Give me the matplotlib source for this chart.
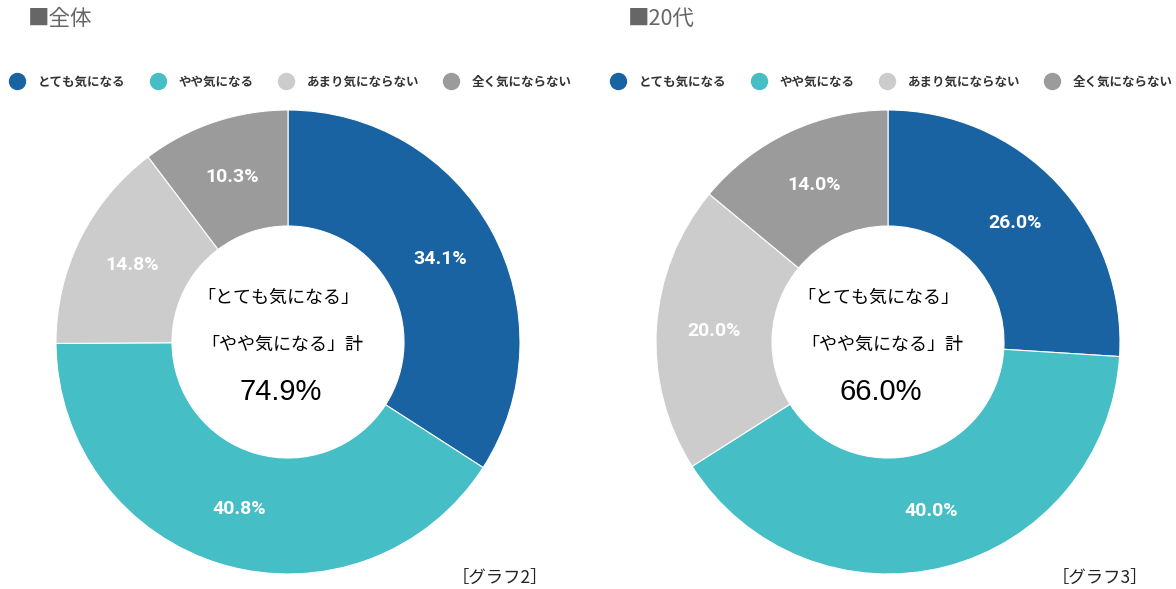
import matplotlib.pyplot as plt
from matplotlib.lines import Line2D

plt.rcParams['font.family'] = ['Noto Sans CJK JP', 'DejaVu Sans']

categories = ['とても気になる', 'やや気になる', 'あまり気にならない', '全く気にならない']
colors = ['#1a63a3', '#45bec6', '#cccccc', '#9b9b9b']

titles = ['■全体', '■20代']
values_all = [34.1, 40.8, 14.8, 10.3]
values_20s = [26.0, 40.0, 20.0, 14.0]
totals = ['74.9%', '66.0%']
captions = ['［グラフ2］', '［グラフ3］']

W, H = 1176, 589
fig = plt.figure(figsize=(W / 100, H / 100), dpi=100)

# pixel layout of each panel: donut centre x, title x, legend x, caption x
panels = [
    (values_all, 288, 28, 9.5, 452),
    (values_20s, 888, 628, 610.5, 1052),
]
radius = 232
cy = 342

for i, (vals, cx, tx, lx, capx) in enumerate(panels):
    ax = fig.add_axes([(cx - radius) / W, (H - cy - radius) / H, 2 * radius / W, 2 * radius / H])
    wedges, _, autotexts = ax.pie(
        vals, colors=colors, startangle=90, counterclock=False,
        wedgeprops=dict(width=0.5, edgecolor='white', linewidth=0.8),
        autopct=lambda p: f'{p:.1f}%', pctdistance=0.75,
        textprops=dict(color='white', fontsize=14, fontweight='bold', family=['Roboto', 'DejaVu Sans']),
    )
    ax.set_xlim(-1, 1)
    ax.set_ylim(-1, 1)
    ax.set_aspect('equal')
    ax.axis('off')

    # centre text
    ax.text(-0.04, 0.19, '「とても気になる」', ha='center', va='center', fontsize=13)
    ax.text(-0.025, -0.013, '「やや気になる」計', ha='center', va='center', fontsize=13)
    ax.text(-0.03, -0.215, totals[i], ha='center', va='center', fontsize=21,
            family=['Liberation Sans', 'DejaVu Sans'])

    # title
    fig.text(tx / W, 1 - 19 / H, titles[i], ha='left', va='center', fontsize=15.5, color='#666666')

    # caption
    fig.text(capx / W, 1 - 578 / H, captions[i], ha='left', va='center', fontsize=12.5, color='#222222')

    # legend
    handles = [Line2D([], [], marker='o', linestyle='', markersize=11.5,
                      markerfacecolor=c, markeredgecolor=c) for c in colors]
    leg = fig.legend(handles, categories, loc='center left', bbox_to_anchor=(lx / W, 1 - 82 / H),
                     ncol=4, frameon=False, handletextpad=1.08, columnspacing=1.96,
                     handlelength=1.2, borderaxespad=0, borderpad=0,
                     prop=dict(size=9, weight='bold', family=['Noto Sans CJK JP', 'DejaVu Sans']))
    for t in leg.get_texts():
        t.set_color('#333333')

fig.savefig('out.png', dpi=100, facecolor='white')
